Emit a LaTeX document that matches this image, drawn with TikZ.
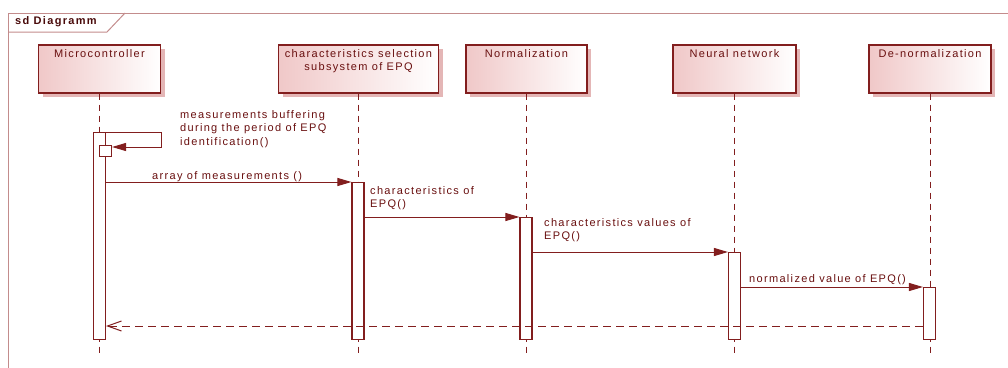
\documentclass[tikz,border=0pt]{standalone}
\usepackage{fontspec}
\setmainfont{Liberation Sans}[LetterSpace=12]
\usetikzlibrary{arrows.meta, shadows}
\definecolor{umlline}{RGB}{130,30,30}
\definecolor{umltext}{RGB}{105,15,15}
\definecolor{umlpink}{RGB}{240,200,200}
\definecolor{umlshadow}{RGB}{228,182,182}
\definecolor{umlframe}{RGB}{195,140,140}
\tikzset{
    head/.style={draw=umlline, line width=1.2pt, left color=umlpink, middle color=white, right color=white,
        minimum height=48pt, inner sep=0pt,
        drop shadow={shadow xshift=4pt, shadow yshift=-4pt, fill=umlshadow, opacity=1}},
    hlbl/.style={anchor=north, inner sep=0pt, yshift=-5pt, text=umltext, align=center,
        font=\fontsize{11pt}{12.5pt}\selectfont},
    act/.style={draw=umlline, line width=1.1pt, fill=white, minimum width=12pt, inner sep=0pt, anchor=north},
    lifeline/.style={draw=umlline, line width=1pt, dash pattern=on 6pt off 5pt},
    msg/.style={draw=umlline, line width=1pt, -{Triangle[length=14pt, width=8pt]}},
    ret/.style={draw=umlline, line width=1pt, dash pattern=on 8pt off 5pt, -{Straight Barb[length=14pt, width=10pt]}},
    txt/.style={inner sep=0pt, text=umltext, align=left, font=\fontsize{11pt}{13.5pt}\selectfont}
}

\begin{document}
\begin{tikzpicture}[x=1pt, y=-1pt]
        \useasboundingbox (0,0) rectangle (1008,367);
        \clip (0,0) rectangle (1008,367);

        % Marco
        \draw[umlframe, line width=1pt] (8,13) rectangle (1040,420);
        \draw[umlframe, line width=1pt] (8,32) -- (107,32) -- (125,13);
        \node[anchor=west, inner sep=0pt, text=umltext!70!black, font=\fontsize{11pt}{13pt}\selectfont\bfseries] (title) at (15,22) {sd Diagramm};

        % Cabeceras
        \node[head, minimum width=122pt, label={[hlbl]north:Microcontroller}] (mc) at (99.5,69) {};
        \node[head, minimum width=160pt, label={[hlbl]north:{characteristics selection\\subsystem of EPQ}}] (chs) at (358.5,69) {};
        \node[head, minimum width=121pt, label={[hlbl]north:Normalization}] (norm) at (526.5,69) {};
        \node[head, minimum width=123pt, label={[hlbl]north:Neural network}] (nn) at (734.5,69) {};
        \node[head, minimum width=122pt, label={[hlbl]north:De-normalization}] (dn) at (930,69) {};

        % Lineas de vida
        \coordinate (bot) at (0,353);
        \coordinate (retY) at (0,326);
        \foreach \h in {mc, chs, norm, nn, dn}
            \draw[lifeline] (\h.south) -- (\h.south |- bot);

        % Activaciones
        \node[act, minimum height=207pt] (mcAct) at (99.5,132) {};
        \node[act, minimum height=11pt] (mcSelf) at (105.5,145) {};
        \node[act, minimum height=157pt] (chsAct) at (358,182) {};
        \node[act, minimum height=122pt] (normAct) at (526,217) {};
        \node[act, minimum height=87pt] (nnAct) at (734.5,252) {};
        \node[act, minimum height=52pt] (dnAct) at (929.5,287) {};

        % Mensajes
        \draw[msg] (mcAct.north east) -- ++(55,0) |- ([yshift=-2pt]mcSelf.north east);
        \draw[msg] (mcAct.east |- chsAct.north) -- (chsAct.north west);
        \draw[msg] (chsAct.east |- normAct.north) -- (normAct.north west);
        \draw[msg] (normAct.east |- nnAct.north) -- (nnAct.north west);
        \draw[msg] (nnAct.east |- dnAct.north) -- (dnAct.north west);
        \draw[ret] (dnAct.west |- retY) -- (mcAct.east |- retY);

        % Textos
        \node[txt, anchor=north west] (tSelf) at (180,110) {measurements buffering\\during the period of EPQ\\identification()};
        \node[txt, anchor=base west] (tArr) at (152,179) {array of measurements ()};
        \node[txt, anchor=north west] (tChs) at (370,186) {characteristics of\\EPQ()};
        \node[txt, anchor=north west] (tNorm) at (544,218) {characteristics values of\\EPQ()};
        \node[txt, anchor=base west] (tNn) at (749,282) {normalized value of EPQ()};
    \end{tikzpicture}
\end{document}
